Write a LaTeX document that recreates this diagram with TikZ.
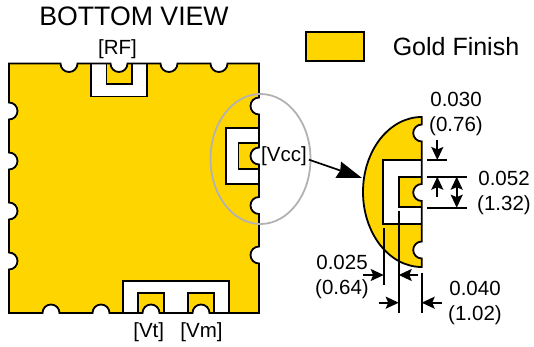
\documentclass[tikz,border=0pt]{standalone}
\usepackage{fontspec}
\setmainfont{Liberation Sans}
\usetikzlibrary{arrows.meta,positioning,shapes.geometric}
\definecolor{gold}{HTML}{FFD500}
\tikzset{
  outline/.style={line width=1.8pt,black},
  padwhite/.style={outline,fill=white},
  padgold/.style={outline,fill=gold},
  dimline/.style={line width=1.7pt,black},
  dimarrow/.style={dimline,-{Stealth[length=13pt,width=12pt,inset=2.5pt]}},
  dimboth/.style={dimline,{Stealth[length=13pt,width=12pt,inset=2.5pt]}-{Stealth[length=13pt,width=12pt,inset=2.5pt]}},
  biglabel/.style={font=\fontsize{25}{30}\selectfont,inner sep=0pt},
  smalllabel/.style={font=\fontsize{20.5}{25.5}\selectfont,inner sep=0pt,align=center},
}
\def\boardpath{(9,34)
  \foreach \x in {51,101,151,201} { -- (\x-8.5,34) arc (180:0:8.5) }
  -- (259,34)
  \foreach \y in {92,141.5,191,241} { -- (259,\y-8.5) arc (-90:-270:8.5) }
  -- (259,283.5)
  \foreach \x in {219,169,119,69} { -- (\x+8.5,283.5) arc (0:-180:8.5) }
  -- (9,283.5)
  \foreach \y in {236,186,136,86} { -- (9,\y+8.5) arc (90:-90:8.5) }
  -- cycle}
\def\lenspath{(421.7,80)
  \foreach \y in {97,154.5,214} { -- (421.7,\y-8.5) arc (-90:-270:8.5) }
  -- (421.7,230) arc (90:270:58.7 and 75) -- cycle}
\begin{document}
\begin{tikzpicture}[x=1pt,y=1pt]
  \useasboundingbox (0,0) rectangle (534,347);
  % board
  \fill[gold] \boardpath;
  \begin{scope}
    \clip \boardpath;
    \draw[padwhite] (91,250.5) rectangle (147,290);
    \draw[padgold] (106.5,263) rectangle (132,290);
    \draw[padwhite] (226,163) rectangle (270,219.3);
    \draw[padgold] (238.5,178) rectangle (270,204.3);
    \draw[padwhite] (123,25) rectangle (229,66);
    \draw[padgold] (138,25) rectangle (164,54);
    \draw[padgold] (188,25) rectangle (214,54);
  \end{scope}
  \draw[outline] \boardpath;
  \node[draw=black!30,line width=1.8pt,ellipse,minimum width=100pt,minimum height=130pt,inner sep=0pt] (zoomring) at (260.5,188) {};
  % lens detail
  \fill[gold] \lenspath;
  \begin{scope}
    \clip \lenspath;
    \draw[padwhite] (383.3,123) rectangle (430,187);
    \draw[padgold] (398.7,139.7) rectangle (430,169.7);
  \end{scope}
  \draw[outline] \lenspath;
  % labels
  \node[biglabel,font=\fontsize{26.7}{30}\selectfont] (title) at (134,331) {BOTTOM VIEW};
  \node[smalllabel] (rf) at (117.5,298) {[RF]};
  \node[smalllabel] (vt) at (148.7,15) {[Vt]};
  \node[smalllabel] (vm) at (201.5,15) {[Vm]};
  \node[smalllabel,inner sep=2pt] (vcc) at (284,190.3) {[Vcc]};
  \node[draw,outline,fill=gold,minimum width=58.3pt,minimum height=28.7pt,inner sep=0pt] (swatch) at (335,300.3) {};
  \node[biglabel] (finish) at (456,300.3) {Gold Finish};
  \node[smalllabel] (dimtop) at (456,233) {0.030\\(0.76)};
  \node[smalllabel] (dimside) at (504,154) {0.052\\(1.32)};
  \node[smalllabel] (dimgap) at (342,70) {0.025\\(0.64)};
  \node[smalllabel] (dimpad) at (475,44) {0.040\\(1.02)};
  % pointer to the detail
  \coordinate (lenstip) at (362,169);
  \draw[line width=1.7pt,-{Stealth[length=25pt,width=17pt,inset=2pt]}] ([yshift=-3pt]vcc.east) -- (lenstip);
  % dimension ticks
  \coordinate (ticka) at (427.3,187);
  \coordinate (tickb) at (447.3,187);
  \coordinate (tickc) at (427.3,170.3);
  \coordinate (tickd) at (466.7,170.3);
  \coordinate (ticke) at (427.3,139.3);
  \coordinate (tickf) at (466.7,139.3);
  \draw[dimline] (ticka) -- (tickb);
  \draw[dimline] (tickc) -- (tickd);
  \draw[dimline] (ticke) -- (tickf);
  \coordinate (linea) at (383.7,119);
  \coordinate (lineb) at (383.7,62);
  \coordinate (linec) at (398.7,136.3);
  \coordinate (lined) at (398.7,34.3);
  \coordinate (linee) at (421.7,74.3);
  \coordinate (linef) at (421.7,34.3);
  \draw[dimline] (linea) -- (lineb);
  \draw[dimline] (linec) -- (lined);
  \draw[dimline] (linee) -- (linef);
  % dimension arrows
  \coordinate (arra) at (437.3,207);
  \coordinate (arrb) at (437.3,187);
  \coordinate (arrc) at (437.3,150.3);
  \coordinate (arrd) at (437.3,170.3);
  \coordinate (arre) at (456.7,170.3);
  \coordinate (arrf) at (456.7,139.3);
  \draw[dimarrow] (arra) -- (arrb);
  \draw[dimarrow] (arrc) -- (arrd);
  \draw[dimboth] (arre) -- (arrf);
  \coordinate (arrg) at (363,72);
  \coordinate (arrh) at (383.7,72);
  \coordinate (arri) at (418,72);
  \coordinate (arrj) at (398.7,72);
  \coordinate (arrk) at (379,44.3);
  \coordinate (arrl) at (398.7,44.3);
  \coordinate (arrm) at (441.7,44.3);
  \coordinate (arrn) at (421.7,44.3);
  \draw[dimarrow] (arrg) -- (arrh);
  \draw[dimarrow] (arri) -- (arrj);
  \draw[dimarrow] (arrk) -- (arrl);
  \draw[dimarrow] (arrm) -- (arrn);
\end{tikzpicture}
\end{document}
